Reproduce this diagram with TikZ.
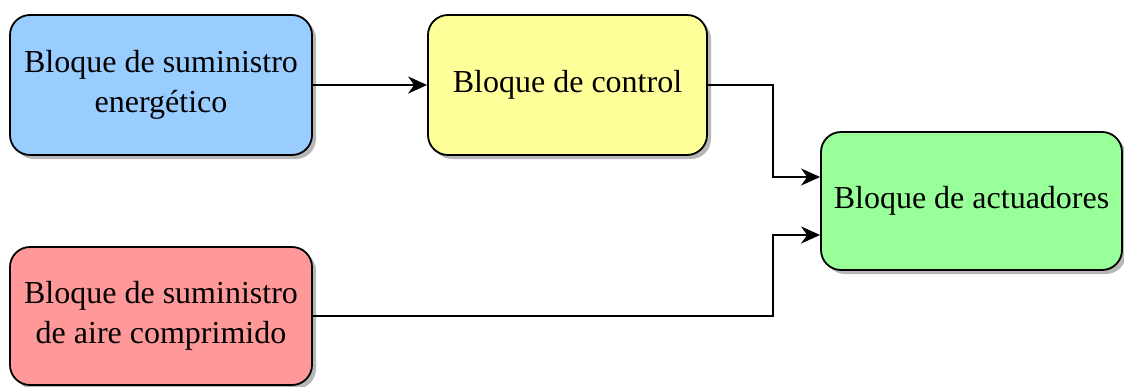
\documentclass[tikz,border=0pt]{standalone}
\usepackage{fontspec}
\setmainfont{Liberation Serif}
\usetikzlibrary{shadows,arrows.meta}
\definecolor{bluefill}{HTML}{99CCFF}
\definecolor{yellowfill}{HTML}{FFFF99}
\definecolor{greenfill}{HTML}{99FF99}
\definecolor{redfill}{HTML}{FF9999}
\tikzset{
  block/.style={rectangle, rounded corners=20pt, draw=black, line width=1.8pt,
    align=center, inner sep=0pt,
    font=\fontsize{32}{40}\selectfont,
    drop shadow={shadow xshift=4pt, shadow yshift=-4pt, opacity=0.4, fill=black!70}},
  link/.style={draw=black, line width=1.6pt,
    -{Stealth[length=19pt, width=17pt, inset=6pt]}}
}
\begin{document}
\begin{tikzpicture}[x=1pt, y=-1pt]
  \useasboundingbox (0,0) rectangle (1124,386);

  \node[block, fill=bluefill, minimum width=302pt, minimum height=140pt] (energia) at (161,85)
    {Bloque de suministro\\energético};
  \node[block, fill=yellowfill, minimum width=279pt, minimum height=140pt] (control) at (567.5,85)
    {Bloque de control};
  \node[block, fill=greenfill, minimum width=301pt, minimum height=138pt] (actuadores) at (971.5,201)
    {Bloque de actuadores};
  \node[block, fill=redfill, minimum width=302pt, minimum height=138pt] (aire) at (161,316)
    {Bloque de suministro\\de aire comprimido};

  % vertical run shared by the two feeds into the actuators
  \coordinate (bend) at (773,0);

  \draw[link] (energia) -- (control);
  \draw[link] (control.east) -- (control.east -| bend) |- ([yshift=24pt]actuadores.west);
  \draw[link] (aire.east) -- (aire.east -| bend) |- ([yshift=-34pt]actuadores.west);
\end{tikzpicture}
\end{document}
